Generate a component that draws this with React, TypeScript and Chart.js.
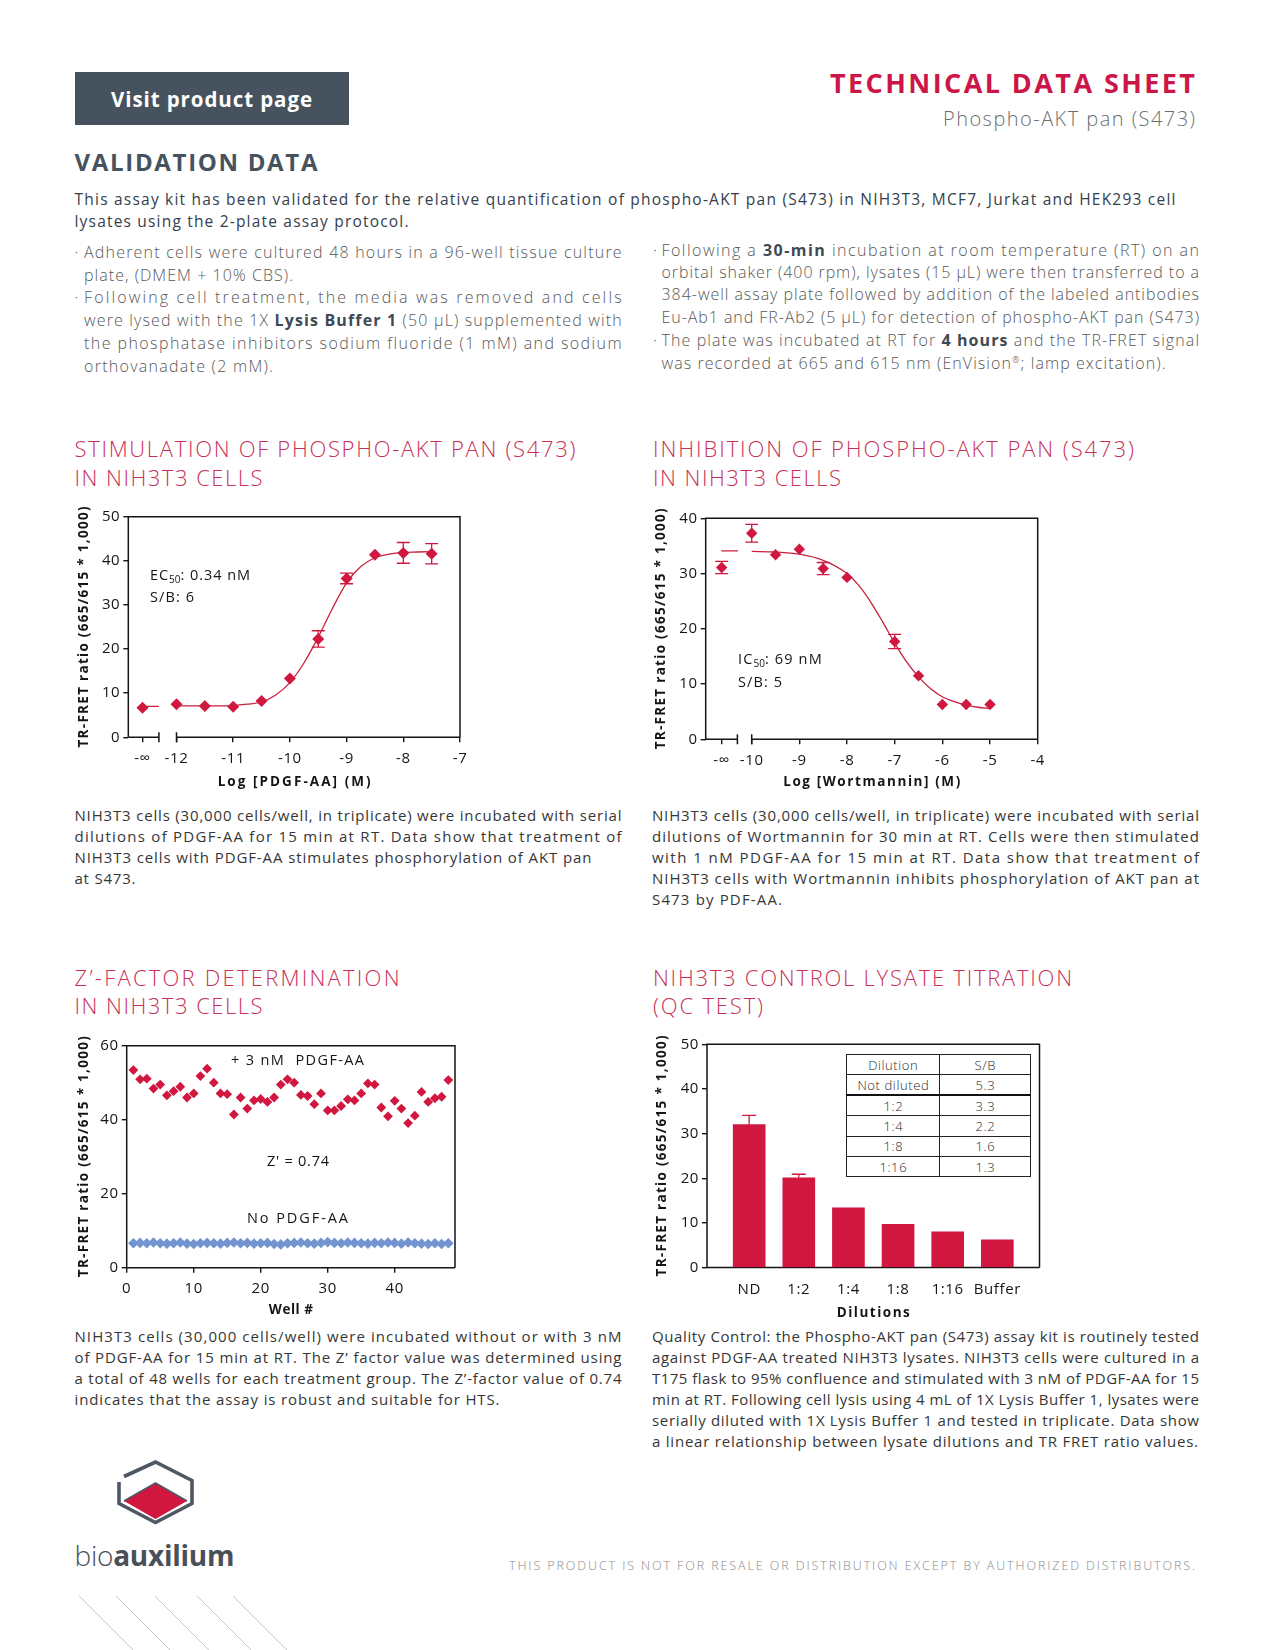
import React, { useEffect, useLayoutEffect, useRef } from 'react';
import { Chart, registerables } from 'chart.js';

Chart.register(...registerables);

const FONT = "'Open Sans', 'Noto Sans', sans-serif";
Chart.defaults.font.family = FONT;

// ---------------- DATA ----------------
// Stimulation with PDGF-AA
const stimXTicks = [-12.6, -12, -11, -10, -9, -8, -7];
const stimXTickLabels = ['-∞', '-12', '-11', '-10', '-9', '-8', '-7'];
const stimYTicks = [0, 10, 20, 30, 40, 50];
const stimLogConc = [-12.6, -12, -11.5, -11, -10.5, -10, -9.5, -9, -8.5, -8, -7.5];
const stimRatio = [6.7, 7.5, 7.1, 6.9, 8.2, 13.3, 22.3, 36.0, 41.4, 41.8, 41.6];
const stimSem = [0, 0, 0, 0, 0, 0, 1.85, 1.2, 0, 2.35, 2.3];
const stimFitLogConc = [-12, -11.5, -11, -10.75, -10.5, -10.25, -10, -9.75, -9.5, -9.25, -9, -8.75, -8.5, -8.25, -8, -7.75, -7.5];
const stimFitRatio = [7.1, 7.1, 7.2, 7.5, 8.0, 9.6, 12.4, 16.9, 22.7, 29.2, 35.0, 38.7, 40.7, 41.5, 41.9, 42.0, 42.1];
const stimZeroLogConc = [-12.6, -12.31];
const stimZeroFit = [7.0, 7.0];
const stimAxisBreak = [-12.31, -12];

// Inhibition with Wortmannin
const inhXTicks = [-10.63, -10, -9, -8, -7, -6, -5, -4];
const inhXTickLabels = ['-∞', '-10', '-9', '-8', '-7', '-6', '-5', '-4'];
const inhYTicks = [0, 10, 20, 30, 40];
const inhLogConc = [-10.63, -10, -9.5, -9, -8.5, -8, -7, -6.5, -6, -5.5, -5];
const inhRatio = [31.1, 37.3, 33.4, 34.4, 30.9, 29.3, 17.7, 11.5, 6.3, 6.3, 6.3];
const inhSem = [1.1, 1.6, 0, 0, 1.1, 0, 1.3, 0, 0, 0, 0];
const inhFitLogConc = [-10, -9.5, -9, -8.5, -8, -7.75, -7.5, -7.25, -7, -6.75, -6.5, -6.25, -6, -5.75, -5.5, -5.25, -5];
const inhFitRatio = [34.0, 33.9, 33.5, 32.4, 30.0, 27.8, 24.8, 21.2, 17.4, 14.0, 11.3, 9.2, 7.7, 6.8, 6.2, 5.8, 5.6];
const inhTopLogConc = [-10.64, -10.29];
const inhTopFit = [34.1, 34.1];
const inhAxisBreak = [-10.3, -10];

// Z'-factor
const zXTicks = [0, 10, 20, 30, 40];
const zYTicks = [0, 20, 40, 60];
const wellNumbers = [1, 2, 3, 4, 5, 6, 7, 8, 9, 10, 11, 12, 13, 14, 15, 16, 17, 18, 19, 20, 21, 22, 23, 24, 25, 26, 27, 28, 29, 30, 31, 32, 33, 34, 35, 36, 37, 38, 39, 40, 41, 42, 43, 44, 45, 46, 47, 48];
const zStimulated = [53.4, 50.9, 51.1, 48.4, 49.5, 46.6, 47.7, 48.9, 46.0, 47.1, 51.8, 53.8, 50.0, 47.1, 46.9, 41.4, 46.0, 43.0, 45.2, 45.6, 44.8, 46.0, 49.5, 50.9, 50.0, 46.7, 46.4, 44.2, 47.1, 42.5, 42.5, 43.7, 45.5, 45.2, 47.1, 49.8, 49.5, 43.3, 40.9, 45.1, 43.0, 39.1, 41.1, 47.5, 44.8, 45.8, 46.2, 50.7];
const zBasal = [6.6, 6.7, 6.6, 6.8, 6.6, 6.5, 6.6, 6.8, 6.5, 6.4, 6.6, 6.7, 6.6, 6.5, 6.7, 6.8, 6.6, 6.7, 6.5, 6.6, 6.7, 6.4, 6.3, 6.6, 6.7, 6.8, 6.6, 6.5, 6.7, 6.9, 6.7, 6.6, 6.8, 6.7, 6.6, 6.5, 6.7, 6.6, 6.8, 6.7, 6.5, 6.8, 6.6, 6.5, 6.4, 6.6, 6.4, 6.6];

// Control lysate titration
const titrationLabels = ['ND', '1:2', '1:4', '1:8', '1:16', 'Buffer'];
const titrationPositions = [0, 1, 2, 3, 4, 5];
const titrationRatio = [32.0, 20.1, 13.4, 9.7, 8.0, 6.2];
const titrationSem = [2.1, 0.8, 0, 0, 0, 0];
const titrationYTicks = [0, 10, 20, 30, 40, 50];
const sbDilutions = ['Not diluted', '1:2', '1:4', '1:8', '1:16'];
const sbValues = ['5.3', '3.3', '2.2', '1.6', '1.3'];

const yAxisTitle = 'TR-FRET ratio (665/615 * 1,000)';

// ---------------- STYLE ----------------
const RED = '#d1173f';
const RED_LINE = '#c8203f';
const BLUE = '#7294d0';
const INK = '#151515';
const TITLE_RED = '#c92f56';

// ---------------- PLUGINS ----------------
const framePlugin = {
  id: 'frame',
  beforeDatasetsDraw(chart: any, _args: any, opts: any) {
    const { ctx, chartArea, scales } = chart;
    const { left, right, top, bottom } = chartArea;
    ctx.save();
    ctx.strokeStyle = INK;
    ctx.lineWidth = 1.5;
    ctx.beginPath();
    ctx.moveTo(left, bottom);
    ctx.lineTo(left, top);
    ctx.lineTo(right, top);
    ctx.lineTo(right, bottom);
    if (opts && opts.axisBreak) {
      const b1 = scales.x.getPixelForValue(opts.axisBreak[0]);
      const b2 = scales.x.getPixelForValue(opts.axisBreak[1]);
      ctx.moveTo(left, bottom);
      ctx.lineTo(b1, bottom);
      ctx.moveTo(b2, bottom);
      ctx.lineTo(right, bottom);
      ctx.moveTo(b1, bottom - 5);
      ctx.lineTo(b1, bottom + 5);
      ctx.moveTo(b2, bottom - 5);
      ctx.lineTo(b2, bottom + 5);
    } else {
      ctx.moveTo(left, bottom);
      ctx.lineTo(right, bottom);
    }
    ctx.stroke();
    ctx.restore();
  },
};

const errorBarPlugin = {
  id: 'errorBars',
  afterDatasetsDraw(chart: any) {
    const { ctx } = chart;
    const ys = chart.scales.y;
    chart.data.datasets.forEach((ds: any, i: number) => {
      if (!ds.errorBars) return;
      const meta = chart.getDatasetMeta(i);
      ctx.save();
      ctx.strokeStyle = ds.errorColor || RED;
      ctx.lineWidth = 1.3;
      meta.data.forEach((el: any, j: number) => {
        const e = ds.errorBars[j];
        if (!e) return;
        const d = ds.data[j];
        const v = typeof d === 'number' ? d : d.y;
        const yTop = ys.getPixelForValue(v + e);
        const yBot = ds.upperOnly ? ys.getPixelForValue(v) : ys.getPixelForValue(v - e);
        const cw = ds.capWidth || 6.5;
        ctx.beginPath();
        ctx.moveTo(el.x, yTop);
        ctx.lineTo(el.x, yBot);
        ctx.moveTo(el.x - cw, yTop);
        ctx.lineTo(el.x + cw, yTop);
        if (!ds.upperOnly) {
          ctx.moveTo(el.x - cw, yBot);
          ctx.lineTo(el.x + cw, yBot);
        }
        ctx.stroke();
      });
      ctx.restore();
    });
  },
};

const spacingPlugin = {
  id: 'textSpacing',
  beforeDraw(chart: any) {
    (chart.ctx as any).letterSpacing = '0.6px';
  },
};

// Axis titles drawn with letter-spacing tuned to a target length
const axisTitlePlugin = {
  id: 'axisTitles',
  afterDraw(chart: any, _args: any, opts: any) {
    if (!opts || !opts.x) return;
    const { ctx, chartArea } = chart;
    const { left, right, top, bottom } = chartArea;
    const drawFit = (text: string, cx: number, cy: number, width: number, rot: number) => {
      ctx.save();
      ctx.translate(cx, cy);
      ctx.rotate(rot);
      ctx.fillStyle = INK;
      ctx.font = `bold ${opts.size}px ${FONT}`;
      ctx.textAlign = 'left';
      ctx.textBaseline = 'middle';
      (ctx as any).letterSpacing = '0px';
      const nat = ctx.measureText(text).width;
      const sp = (width - nat) / Math.max(1, text.length - 1);
      (ctx as any).letterSpacing = `${sp}px`;
      ctx.fillText(text, -width / 2, 0);
      ctx.restore();
    };
    drawFit(opts.x.text, (left + right) / 2, opts.x.y, opts.x.width, 0);
    drawFit(opts.y.text, opts.y.x, (top + bottom) / 2, opts.y.width, -Math.PI / 2);
  },
};

Chart.register(framePlugin as any, errorBarPlugin as any, spacingPlugin as any, axisTitlePlugin as any);

// ---------------- CHART HELPERS ----------------
type Geo = {
  cl: number; ct: number; cr: number; cb: number;
  al: number; at: number; ar: number; ab: number;
  xTitleY: number; xTitleW: number; yTitleX: number;
};

type AxisSpec = {
  min: number;
  max: number;
  ticks: number[];
  labels?: string[];
  drawTicks?: boolean;
  pad?: number;
};

function buildScales(g: Geo, x: AxisSpec, y: AxisSpec) {
  return {
    x: {
      type: 'linear',
      min: x.min,
      max: x.max,
      offset: false,
      afterBuildTicks: (s: any) => {
        s.ticks = x.ticks.map((v) => ({ value: v }));
      },
      afterFit: (s: any) => {
        s.height = g.cb - g.ab;
      },
      ticks: {
        autoSkip: false,
        maxRotation: 0,
        minRotation: 0,
        padding: x.pad ?? 7,
        color: INK,
        font: { size: 15 },
        callback: (v: any, i: number) => (x.labels ? x.labels[i] : String(v)),
      },
      grid: {
        offset: false,
        drawOnChartArea: false,
        drawTicks: x.drawTicks !== false,
        display: x.drawTicks !== false,
        tickLength: 5,
        color: INK,
        lineWidth: 1.4,
      },
      border: { display: false },
      title: { display: false },
    },
    y: {
      type: 'linear',
      min: y.min,
      max: y.max,
      afterBuildTicks: (s: any) => {
        s.ticks = y.ticks.map((v) => ({ value: v }));
      },
      afterFit: (s: any) => {
        s.width = g.al - g.cl;
      },
      ticks: {
        autoSkip: false,
        padding: 3,
        color: INK,
        font: { size: 15 },
        callback: (v: any) => String(v),
      },
      grid: {
        drawOnChartArea: false,
        drawTicks: true,
        tickLength: 5,
        color: INK,
        lineWidth: 1.4,
      },
      border: { display: false },
      title: { display: false },
    },
  };
}

function baseOptions(g: Geo, scales: any, frame: any, xTitle: string) {
  return {
    animation: false,
    responsive: false,
    maintainAspectRatio: false,
    events: [],
    layout: { padding: { left: 0, bottom: 0, top: g.at - g.ct, right: g.cr - g.ar } },
    plugins: {
      legend: { display: false },
      tooltip: { enabled: false },
      frame,
      axisTitles: {
        size: 13.5,
        x: { text: xTitle, y: g.xTitleY - g.ct, width: g.xTitleW },
        y: { text: yAxisTitle, x: g.yTitleX - g.cl, width: 241 },
      },
    },
    scales,
  };
}

function pts(xs: number[], ys: number[]) {
  return xs.map((x, i) => ({ x, y: ys[i] }));
}

function ChartCanvas({ geo, build }: { geo: Geo; build: (g: Geo) => any }) {
  const ref = useRef<HTMLCanvasElement>(null);
  useEffect(() => {
    const chart = new Chart(ref.current as HTMLCanvasElement, build(geo));
    return () => chart.destroy();
  }, []);
  const w = geo.cr - geo.cl;
  const h = geo.cb - geo.ct;
  return (
    <canvas
      ref={ref}
      width={w}
      height={h}
      style={{ position: 'absolute', left: geo.cl, top: geo.ct, width: w, height: h }}
    />
  );
}

const lineStyle = {
  borderColor: RED_LINE,
  borderWidth: 1.3,
  pointRadius: 0,
  showLine: true,
  fill: false,
  cubicInterpolationMode: 'monotone',
};

const stimGeo: Geo = { cl: 70, ct: 500, cr: 480, cb: 800, al: 128.3, at: 516.7, ar: 460, ab: 737.3, xTitleY: 782, xTitleW: 153, yTitleX: 84.5 };
const inhGeo: Geo = { cl: 648, ct: 500, cr: 1060, cb: 800, al: 705.7, at: 518.3, ar: 1037.7, ab: 739.3, xTitleY: 782, xTitleW: 177, yTitleX: 661.5 };
const zGeo: Geo = { cl: 70, ct: 1030, cr: 475, cb: 1325, al: 126.7, at: 1045.7, ar: 455, ab: 1267.7, xTitleY: 1310, xTitleW: 44, yTitleX: 84 };
const titGeo: Geo = { cl: 648, ct: 1030, cr: 1060, cb: 1325, al: 707, at: 1044.3, ar: 1039.5, ab: 1267.6, xTitleY: 1313, xTitleW: 73, yTitleX: 662 };

function stimConfig(g: Geo) {
  return {
    type: 'scatter',
    data: {
      datasets: [
        { ...lineStyle, data: pts(stimFitLogConc, stimFitRatio) },
        { ...lineStyle, data: pts(stimZeroLogConc, stimZeroFit) },
        {
          data: pts(stimLogConc, stimRatio),
          pointStyle: 'rectRot',
          pointRadius: 6,
          backgroundColor: RED,
          borderColor: RED,
          borderWidth: 0,
          errorBars: stimSem,
          capWidth: 6.5,
        },
      ],
    },
    options: baseOptions(
      g,
      buildScales(
        g,
        { min: -12.85, max: -7, ticks: stimXTicks, labels: stimXTickLabels },
        { min: 0, max: 50, ticks: stimYTicks }
      ),
      { axisBreak: stimAxisBreak },
      'Log [PDGF-AA] (M)'
    ),
  };
}

function inhConfig(g: Geo) {
  return {
    type: 'scatter',
    data: {
      datasets: [
        { ...lineStyle, data: pts(inhFitLogConc, inhFitRatio) },
        { ...lineStyle, data: pts(inhTopLogConc, inhTopFit) },
        {
          data: pts(inhLogConc, inhRatio),
          pointStyle: 'rectRot',
          pointRadius: 5.7,
          backgroundColor: RED,
          borderColor: RED,
          borderWidth: 0,
          errorBars: inhSem,
          capWidth: 6.5,
        },
      ],
    },
    options: baseOptions(
      g,
      buildScales(
        g,
        { min: -10.965, max: -4, ticks: inhXTicks, labels: inhXTickLabels },
        { min: 0, max: 40, ticks: inhYTicks }
      ),
      { axisBreak: inhAxisBreak },
      'Log [Wortmannin] (M)'
    ),
  };
}

function zConfig(g: Geo) {
  return {
    type: 'scatter',
    data: {
      datasets: [
        {
          data: pts(wellNumbers, zBasal),
          pointStyle: 'rectRot',
          pointRadius: 5.3,
          backgroundColor: BLUE,
          borderColor: BLUE,
          borderWidth: 0,
        },
        {
          data: pts(wellNumbers, zStimulated),
          pointStyle: 'rectRot',
          pointRadius: 4.9,
          backgroundColor: RED,
          borderColor: RED,
          borderWidth: 0,
        },
      ],
    },
    options: baseOptions(
      g,
      buildScales(
        g,
        { min: 0, max: 49, ticks: zXTicks },
        { min: 0, max: 60, ticks: zYTicks }
      ),
      {},
      'Well #'
    ),
  };
}

function titConfig(g: Geo) {
  return {
    type: 'bar',
    data: {
      datasets: [
        {
          data: pts(titrationPositions, titrationRatio),
          backgroundColor: RED,
          borderWidth: 0,
          barThickness: 32,
          errorBars: titrationSem,
          upperOnly: true,
          capWidth: 7,
        },
      ],
    },
    options: baseOptions(
      g,
      buildScales(
        g,
        { min: -0.85, max: 5.85, ticks: titrationPositions, labels: titrationLabels, drawTicks: false, pad: 13 },
        { min: 0, max: 50, ticks: titrationYTicks }
      ),
      {},
      'Dilutions'
    ),
  };
}

// ---------------- TEXT HELPERS ----------------
// A single line of text; when `fit` is given, letter-spacing is tuned so the line spans `fit` px.
function TL({ x, y, w = 700, fit, size, weight = 400, color = '#333', align = 'left', lh, children }: any) {
  const ref = useRef<HTMLDivElement>(null);
  useLayoutEffect(() => {
    if (!fit) return;
    const el = ref.current as HTMLDivElement;
    const span = el.firstChild as HTMLElement;
    const apply = () => {
      el.style.letterSpacing = '0px';
      const nat = span.getBoundingClientRect().width;
      const n = Math.max(1, (span.textContent || '').length - 1);
      el.style.letterSpacing = `${(fit - nat) / n}px`;
    };
    apply();
    const fs: any = (document as any).fonts;
    if (fs && fs.ready) fs.ready.then(apply);
  }, []);
  const L = lh || Math.round(size * 1.35);
  return (
    <div
      ref={ref}
      style={{
        position: 'absolute',
        left: x,
        top: y - L / 2,
        width: w,
        height: L,
        lineHeight: `${L}px`,
        fontSize: size,
        fontWeight: weight,
        color,
        textAlign: align as any,
        whiteSpace: 'nowrap',
      }}
    >
      <span>{children}</span>
    </div>
  );
}

const BOLD = { fontWeight: 700, color: '#3f4a55' };
const BUL = { size: 16, weight: 300, color: '#585858' };
const CAP = { size: 15, weight: 400, color: '#363636' };
const SEC = { size: 22, weight: 300, color: TITLE_RED };

function Sub({ children }: any) {
  return <span style={{ fontSize: 10, verticalAlign: -3, letterSpacing: 0 }}>{children}</span>;
}

export default function App() {
  const leftB = 84;
  const leftW = 537.6;
  const rightB = 661.5;
  const rightW = 537.5;
  return (
    <div
      style={{
        position: 'absolute',
        left: 0,
        top: 0,
        width: 1275,
        height: 1650,
        overflow: 'hidden',
        background: '#fff',
        fontFamily: FONT,
      }}
    >
      {/* Header */}
      <div style={{ position: 'absolute', left: 74.5, top: 71.5, width: 274, height: 53.5, background: '#46535e' }} />
      <TL x={111} y={98.5} fit={201} size={20.5} weight={700} color="#fff">
        Visit product page
      </TL>
      <TL x={830} y={83} fit={365} size={27} weight={700} color="#cc1647">
        TECHNICAL DATA SHEET
      </TL>
      <TL x={943} y={118.6} fit={252} size={20} weight={300} color="#6d6d6d">
        Phospho-AKT pan (S473)
      </TL>
      <TL x={74.5} y={161.7} fit={243} size={24} weight={700} color="#46535e">
        VALIDATION DATA
      </TL>

      {/* Intro */}
      <TL x={74.5} y={199.5} fit={1101} size={15.5} weight={500} color="#34404c">
        This assay kit has been validated for the relative quantification of phospho-AKT pan (S473) in NIH3T3, MCF7, Jurkat and HEK293 cell
      </TL>
      <TL x={74.5} y={221.5} fit={334} size={15.5} weight={500} color="#34404c">
        lysates using the 2-plate assay protocol.
      </TL>

      {/* Left bullets */}
      <TL x={74.5} y={252} w={10} {...BUL}>·</TL>
      <TL x={leftB} y={252} fit={leftW} {...BUL}>
        Adherent cells were cultured 48 hours in a 96-well tissue culture
      </TL>
      <TL x={leftB} y={275} fit={209} {...BUL}>
        plate, (DMEM + 10% CBS).
      </TL>
      <TL x={74.5} y={297} w={10} {...BUL}>·</TL>
      <TL x={leftB} y={297} fit={leftW} {...BUL}>
        Following cell treatment, the media was removed and cells
      </TL>
      <TL x={leftB} y={320} fit={leftW} {...BUL}>
        were lysed with the 1X <span style={BOLD}>Lysis Buffer 1</span> (50 µL) supplemented with
      </TL>
      <TL x={leftB} y={343} fit={leftW} {...BUL}>
        the phosphatase inhibitors sodium fluoride (1 mM) and sodium
      </TL>
      <TL x={leftB} y={366} fit={189} {...BUL}>
        orthovanadate (2 mM).
      </TL>

      {/* Right bullets */}
      <TL x={653} y={250} w={10} {...BUL}>·</TL>
      <TL x={rightB} y={250} fit={rightW} {...BUL}>
        Following a <span style={BOLD}>30-min</span> incubation at room temperature (RT) on an
      </TL>
      <TL x={rightB} y={272} fit={rightW} {...BUL}>
        orbital shaker (400 rpm), lysates (15 µL) were then transferred to a
      </TL>
      <TL x={rightB} y={294} fit={rightW} {...BUL}>
        384-well assay plate followed by addition of the labeled antibodies
      </TL>
      <TL x={rightB} y={317} fit={rightW} {...BUL}>
        Eu-Ab1 and FR-Ab2 (5 µL) for detection of phospho-AKT pan (S473)
      </TL>
      <TL x={653} y={340} w={10} {...BUL}>·</TL>
      <TL x={rightB} y={340} fit={rightW} {...BUL}>
        The plate was incubated at RT for <span style={BOLD}>4 hours</span> and the TR-FRET signal
      </TL>
      <TL x={rightB} y={363} fit={504} {...BUL}>
        was recorded at 665 and 615 nm (EnVision<sup style={{ fontSize: 9, lineHeight: 0 }}>®</sup>; lamp excitation).
      </TL>

      {/* Section titles */}
      <TL x={74.5} y={448} fit={501} {...SEC}>STIMULATION OF PHOSPHO-AKT PAN (S473)</TL>
      <TL x={74.5} y={477} fit={188} {...SEC}>IN NIH3T3 CELLS</TL>
      <TL x={653} y={448} fit={481} {...SEC}>INHIBITION OF PHOSPHO-AKT PAN (S473)</TL>
      <TL x={653} y={477} fit={188} {...SEC}>IN NIH3T3 CELLS</TL>
      <TL x={74.5} y={976.5} fit={325} {...SEC}>Z’-FACTOR DETERMINATION</TL>
      <TL x={74.5} y={1005} fit={188} {...SEC}>IN NIH3T3 CELLS</TL>
      <TL x={653} y={976.5} fit={419} {...SEC}>NIH3T3 CONTROL LYSATE TITRATION</TL>
      <TL x={653} y={1005} fit={110} {...SEC}>(QC TEST)</TL>

      {/* Charts */}
      <ChartCanvas geo={stimGeo} build={stimConfig} />
      <ChartCanvas geo={inhGeo} build={inhConfig} />
      <ChartCanvas geo={zGeo} build={zConfig} />
      <ChartCanvas geo={titGeo} build={titConfig} />

      {/* Chart annotations */}
      <TL x={150} y={575} fit={102} size={14.5} color={INK}>
        EC<Sub>50</Sub>: 0.34 nM
      </TL>
      <TL x={150} y={597} fit={44} size={14.5} color={INK}>S/B: 6</TL>
      <TL x={738} y={659} fit={86} size={14.5} color={INK}>
        IC<Sub>50</Sub>: 69 nM
      </TL>
      <TL x={738} y={682} fit={44} size={14.5} color={INK}>S/B: 5</TL>
      <TL x={231} y={1060} fit={133} size={14.5} color={INK}>
        + 3 nM&nbsp;&nbsp;PDGF-AA
      </TL>
      <TL x={267} y={1160.7} fit={62} size={14.5} color={INK}>
        Z' = 0.74
      </TL>
      <TL x={247} y={1218} fit={101} size={14.5} color={INK}>
        No PDGF-AA
      </TL>

      {/* S/B inset table */}
      <table
        style={{
          position: 'absolute',
          left: 846.3,
          top: 1054,
          width: 185,
          borderCollapse: 'collapse',
          fontSize: 13,
          fontWeight: 300,
          letterSpacing: 0.6,
          color: '#2a2a2a',
          fontFamily: FONT,
          background: '#fff',
        }}
      >
        <tbody>
          <tr style={{ height: 20.4 }}>
            <td style={{ border: '1px solid #222', width: 92, textAlign: 'center', padding: 0 }}>Dilution</td>
            <td style={{ border: '1px solid #222', textAlign: 'center', padding: 0 }}>S/B</td>
          </tr>
          {sbDilutions.map((d, i) => (
            <tr key={d} style={{ height: 20.4 }}>
              <td
                style={{
                  border: '1px solid #222',
                  borderBottom: i === 0 ? '2px solid #111' : '1px solid #222',
                  textAlign: 'center',
                  padding: 0,
                }}
              >
                {d}
              </td>
              <td
                style={{
                  border: '1px solid #222',
                  borderBottom: i === 0 ? '2px solid #111' : '1px solid #222',
                  textAlign: 'center',
                  padding: 0,
                }}
              >
                {sbValues[i]}
              </td>
            </tr>
          ))}
        </tbody>
      </table>

      {/* Captions */}
      <TL x={74.5} y={815} fit={547} {...CAP}>
        NIH3T3 cells (30,000 cells/well, in triplicate) were incubated with serial
      </TL>
      <TL x={74.5} y={836} fit={547} {...CAP}>
        dilutions of PDGF-AA for 15 min at RT. Data show that treatment of
      </TL>
      <TL x={74.5} y={857} fit={517} {...CAP}>
        NIH3T3 cells with PDGF-AA stimulates phosphorylation of AKT pan
      </TL>
      <TL x={74.5} y={878} fit={61} {...CAP}>at S473.</TL>

      <TL x={652} y={815} fit={547} {...CAP}>
        NIH3T3 cells (30,000 cells/well, in triplicate) were incubated with serial
      </TL>
      <TL x={652} y={836} fit={547} {...CAP}>
        dilutions of Wortmannin for 30 min at RT. Cells were then stimulated
      </TL>
      <TL x={652} y={857} fit={547} {...CAP}>
        with 1 nM PDGF-AA for 15 min at RT. Data show that treatment of
      </TL>
      <TL x={652} y={878} fit={547} {...CAP}>
        NIH3T3 cells with Wortmannin inhibits phosphorylation of AKT pan at
      </TL>
      <TL x={652} y={899} fit={130} {...CAP}>S473 by PDF-AA.</TL>

      <TL x={74.5} y={1335.6} fit={547} {...CAP}>
        NIH3T3 cells (30,000 cells/well) were incubated without or with 3 nM
      </TL>
      <TL x={74.5} y={1356.6} fit={547} {...CAP}>
        of PDGF-AA for 15 min at RT. The Z’ factor value was determined using
      </TL>
      <TL x={74.5} y={1377.6} fit={547} {...CAP}>
        a total of 48 wells for each treatment group. The Z’-factor value of 0.74
      </TL>
      <TL x={74.5} y={1398.6} fit={425} {...CAP}>
        indicates that the assay is robust and suitable for HTS.
      </TL>

      <TL x={652} y={1335.6} fit={547} {...CAP}>
        Quality Control: the Phospho-AKT pan (S473) assay kit is routinely tested
      </TL>
      <TL x={652} y={1356.6} fit={547} {...CAP}>
        against PDGF-AA treated NIH3T3 lysates. NIH3T3 cells were cultured in a
      </TL>
      <TL x={652} y={1377.6} fit={547} {...CAP}>
        T175 flask to 95% confluence and stimulated with 3 nM of PDGF-AA for 15
      </TL>
      <TL x={652} y={1398.6} fit={547} {...CAP}>
        min at RT. Following cell lysis using 4 mL of 1X Lysis Buffer 1, lysates were
      </TL>
      <TL x={652} y={1419.6} fit={547} {...CAP}>
        serially diluted with 1X Lysis Buffer 1 and tested in triplicate. Data show
      </TL>
      <TL x={652} y={1440.6} fit={546} {...CAP}>
        a linear relationship between lysate dilutions and TR FRET ratio values.
      </TL>

      {/* Logo */}
      <svg
        style={{ position: 'absolute', left: 116, top: 1459 }}
        width={80}
        height={68}
        viewBox="0 0 80 68"
      >
        <path d="M39.5 24 L71 42 L39.5 60 L8 42 Z" fill="#d1173f" />
        <path
          d="M8 17.5 L39.5 3 L76 21.5 L76 44.5 L39.5 63.5 L3 44.5 L3 23"
          fill="none"
          stroke="#4f5862"
          strokeWidth={3.6}
          strokeLinejoin="miter"
        />
        <path d="M8 42 L39.5 24 L71 42" fill="none" stroke="#4f5862" strokeWidth={1.8} />
      </svg>
      <TL x={74.5} y={1555} fit={160} size={28} weight={300} color="#4a5059">
        bio<span style={{ fontWeight: 700 }}>auxilium</span>
      </TL>

      {/* Footer */}
      <TL x={509} y={1565.5} fit={686} size={12.5} weight={300} color="#8a8a8a">
        THIS PRODUCT IS NOT FOR RESALE OR DISTRIBUTION EXCEPT BY AUTHORIZED DISTRIBUTORS.
      </TL>
      <svg style={{ position: 'absolute', left: 60, top: 1590 }} width={260} height={60}>
        {[19, 56, 95, 137, 173].map((x0) => (
          <line key={x0} x1={x0} y1={6} x2={x0 + 56} y2={62} stroke="#c9c9c9" strokeWidth={1} />
        ))}
      </svg>
    </div>
  );
}
